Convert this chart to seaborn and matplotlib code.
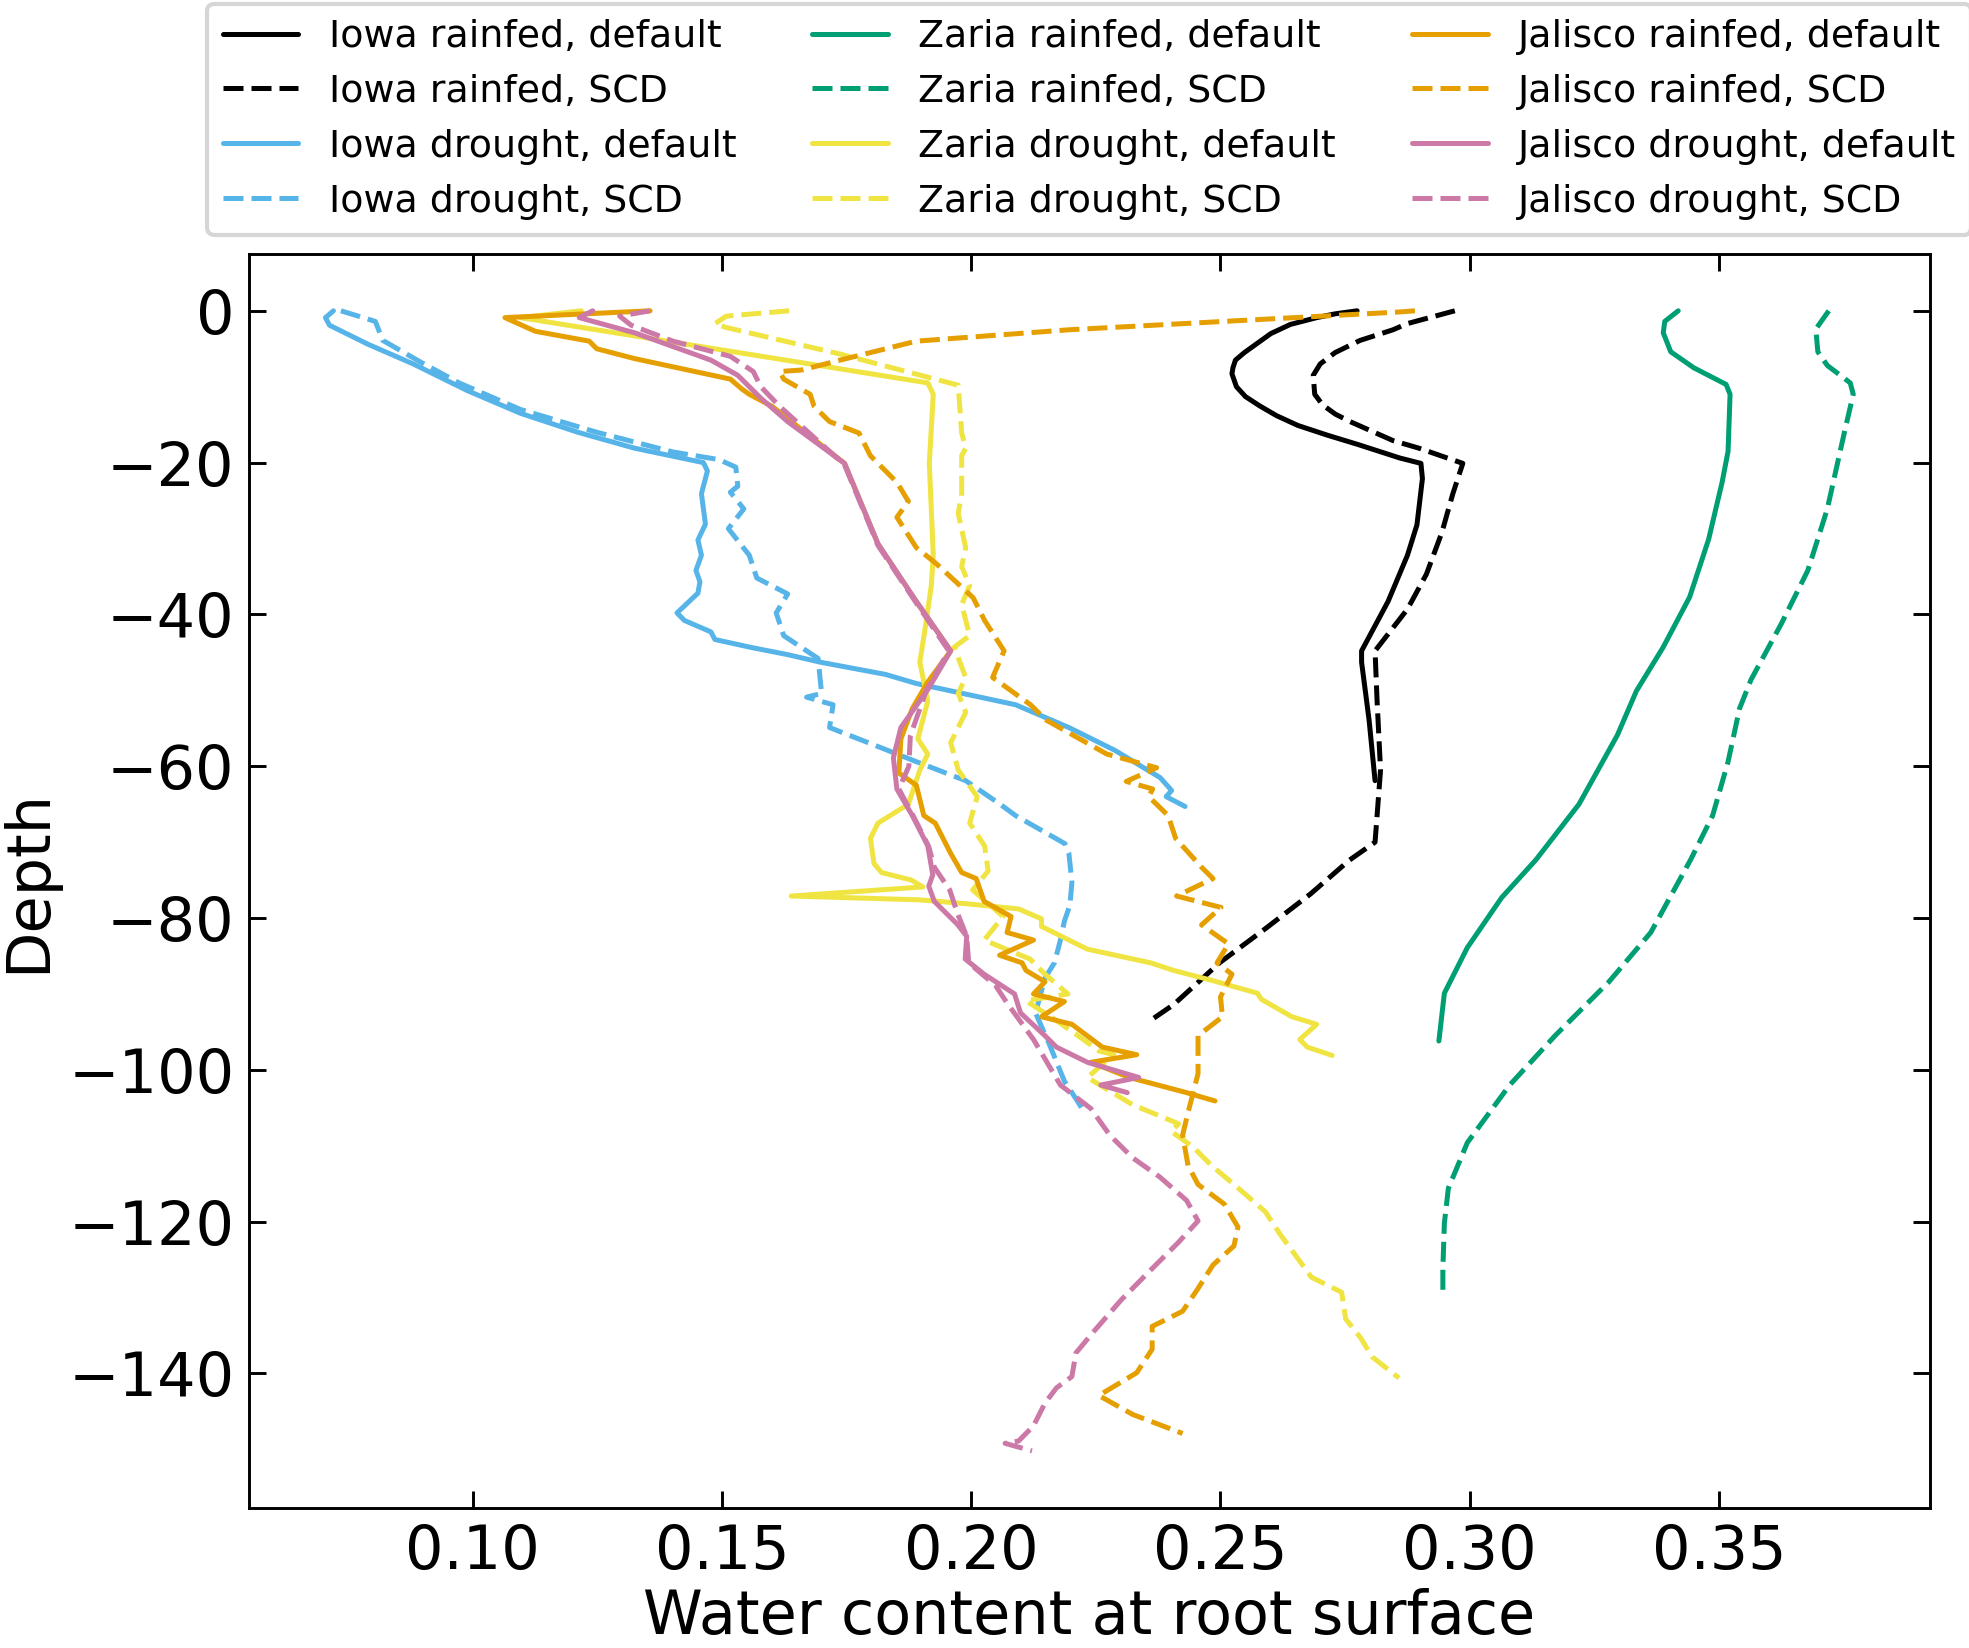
import pandas as pd
import seaborn as sns
import matplotlib.pyplot as plt

# Iowa rainfed, default
iowa_rain_def_wc = [0.2774, 0.2730, 0.2693, 0.2640, 0.2601, 0.2548, 0.2530, 0.2525, 0.2523, 0.2532,
                    0.2550, 0.2578, 0.2612, 0.2655, 0.2715, 0.2775, 0.2860, 0.2902, 0.2905, 0.2894,
                    0.2875, 0.2836, 0.2783, 0.2783, 0.2798, 0.2810]
iowa_rain_def_z = [0, -0.4, -0.9, -1.8, -3, -5.5, -6.5, -7.5, -8.3, -10,
                   -11.3, -12.5, -13.8, -15.1, -16.4, -17.6, -19.4, -20.1, -22.1, -28.2,
                   -32.2, -38.3, -44.8, -46.3, -53.9, -61.9]

# Iowa rainfed, SCD
iowa_rain_scd_wc = [0.2970, 0.2874, 0.2846, 0.2780, 0.2730, 0.2700, 0.2686, 0.2689, 0.2705, 0.2730,
                    0.2760, 0.2846, 0.2898, 0.2986, 0.2966, 0.2944, 0.2913, 0.2875, 0.2810, 0.2814,
                    0.2821, 0.2810, 0.2758, 0.2681, 0.2590, 0.2498, 0.2406, 0.2355]
iowa_rain_scd_z = [0, -1.7, -2.5, -3.9, -5.5, -7, -8.5, -11, -12.4, -13.6,
                   -14.6, -17.1, -18.1, -20.1, -24.1, -29.2, -34.7, -39.3, -44.8, -51.3,
                   -60.5, -70, -72.4, -76.8, -81.4, -85.9, -91.4, -93.7]

# Iowa drought, default
iowa_dry_def_wc = [0.0721, 0.0705, 0.0713, 0.0790, 0.0881, 0.0989, 0.1096, 0.1211, 0.1325, 0.1463,
                   0.1471, 0.1459, 0.1467, 0.1452, 0.1459, 0.1448, 0.1456, 0.1452, 0.1410, 0.1425,
                   0.1478, 0.1486, 0.1555, 0.1632, 0.1698, 0.1828, 0.1890, 0.2089, 0.2196, 0.2288,
                   0.2379, 0.2402, 0.2391, 0.2429]
iowa_dry_def_z = [0, -0.9, -1.9, -4.4, -7, -10.5, -13.5, -16, -18.1, -20,
                  -21.1, -24.1, -28.1, -30.2, -32.2, -34.2, -35.7, -37.2, -39.8, -40.8,
                  -42.3, -43.3, -44.3, -45.3, -46.3, -47.9, -49.1, -51.9, -54.9, -57.9,
                  -61.5, -63.2, -64, -65.3]

# Iowa drought, SCD
iowa_dry_scd_wc = [0.0736, 0.0805, 0.0820, 0.0897, 0.0973, 0.1096, 0.1249, 0.1402, 0.1494, 0.1528,
                   0.1532, 0.1517, 0.1544, 0.1513, 0.1555, 0.1570, 0.1632, 0.1609, 0.1624, 0.1693,
                   0.1700, 0.1670, 0.1723, 0.1716, 0.1813, 0.1890, 0.1989, 0.2058, 0.2089, 0.2188,
                   0.2196, 0.2202, 0.2198, 0.2187, 0.2179, 0.2167, 0.2148, 0.2129, 0.2156, 0.2187,
                   0.2213, 0.2229]
iowa_dry_scd_z = [0, -1.4, -3.9, -6.8, -9.5, -13, -16, -18.6, -19.6, -20.6,
                  -23.1, -23.9, -26.1, -28.7, -32.2, -35.2, -37.3, -39.8, -42.8, -45.8,
                  -50.4, -50.9, -51.9, -54.9, -57.4, -59.4, -61.9, -65, -66.5, -70.2,
                  -71.5, -75.3, -78.3, -80.4, -82.9, -85.9, -87.9, -92.5, -96.5, -101.5,
                  -104.1, -105.8]

# Zaria rainfed, default
zaria_rain_def_wc = [0.3418, 0.3391, 0.3388, 0.3403, 0.3449, 0.3514, 0.3522, 0.3518, 0.3506, 0.3479,
                     0.3441, 0.3388, 0.3334, 0.3296, 0.3219, 0.3133, 0.3064, 0.2995, 0.2949, 0.2938]
zaria_rain_def_z = [0, -1.4, -2.9, -5.4, -7.5, -9.7, -11, -18.5, -22.6, -30.1,
                    -37.7, -44.3, -50.1, -55.9, -65, -72.3, -77.3, -83.9, -89.9, -96.2]

# Zaria rainfed, SCD
zaria_rain_scd_wc = [0.3720, 0.3694, 0.3698, 0.3717, 0.3763, 0.3769, 0.3751, 0.3717, 0.3678, 0.3625,
                     0.3564, 0.3541, 0.3518, 0.3487, 0.3443, 0.3363, 0.3279, 0.3171, 0.3080, 0.2995,
                     0.2957, 0.2949, 0.2946, 0.2946]
zaria_rain_scd_z = [0, -2.4, -5.4, -7.2, -9.5, -11, -16.1, -26.1, -34.2, -41.2,
                    -48.6, -52.4, -59.4, -66.5, -72.3, -81.9, -88.4, -95.5, -102, -109.6,
                    -115.6, -120.2, -126.2, -129.8]

# Zaria drought, default
zaria_dry_def_wc = [0.1218, 0.1096, 0.1913, 0.1924, 0.1916, 0.1924, 0.1920, 0.1909, 0.1897, 0.1913,
                    0.1893, 0.1913, 0.1897, 0.1874, 0.1813, 0.1798, 0.1805, 0.1820, 0.1880, 0.1903,
                    0.1639, 0.1896, 0.1988, 0.2095, 0.2141, 0.2141, 0.2233, 0.2360, 0.2406, 0.2482,
                    0.2574, 0.2582, 0.2643, 0.2693, 0.2659, 0.2674, 0.2724]
zaria_dry_def_z = [0, -0.9, -9.5, -11, -20.1, -32.2, -36.2, -41.3, -46.3, -51.4,
                   -56.4, -58.4, -60.5, -65, -67.5, -69.5, -72.8, -74.0, -75.0, -75.9,
                   -77.1, -77.6, -78.1, -78.8, -80.1, -81.1, -84.1, -85.9, -86.9, -88.2,
                   -89.9, -90.7, -93, -94, -96, -97, -98.1]

# Zaria drought, SCD
zaria_dry_scd_wc = [0.1635, 0.1509, 0.1486, 0.1509, 0.1737, 0.1974, 0.1981, 0.1989, 0.1981, 0.1981,
                    0.1974, 0.1989, 0.1981, 0.1997, 0.1981, 0.1997, 0.1966, 0.1989, 0.1974, 0.1989,
                    0.1959, 0.1974, 0.2012, 0.1997, 0.2027, 0.2034, 0.2003, 0.2064, 0.2026, 0.2118,
                    0.2148, 0.2194, 0.2110, 0.2171, 0.2225, 0.2256, 0.2286, 0.2233, 0.2324, 0.2416,
                    0.2401, 0.2444, 0.2482, 0.2536, 0.2590, 0.2620, 0.2659, 0.2682, 0.2743, 0.2751,
                    0.2781, 0.2804, 0.2858]
zaria_dry_scd_z = [0, -0.7, -1.7, -2.2, -5.7, -9.8, -16.1, -18.1, -19.1, -24.1,
                   -26.7, -31.2, -33.7, -36.2, -38.7, -42.8, -44.3, -48.3, -50.4, -52.9,
                   -56.9, -60.5, -64, -67.5, -70.5, -73.8, -76.3, -79.8, -82.9, -85.4,
                   -87.4, -90, -90.9, -93.5, -96, -97.5, -98, -101, -104.6, -107.1,
                   -108.1, -110.1, -112.6, -115.6, -118.7, -121.7, -125.2, -127.3, -129.3, -132.8,
                   -135.3, -137.8, -140.6]

# Jalisco rainfed, default
jal_rain_def_wc = [0.1356, 0.1065, 0.1126, 0.1234, 0.1249, 0.1325, 0.1517, 0.1540, 0.1555, 0.1601,
                   0.1746, 0.1813, 0.1890, 0.1959, 0.1913, 0.1882, 0.1859, 0.1855, 0.1890, 0.1905,
                   0.1928, 0.1959, 0.1981, 0.2010, 0.2018, 0.2026, 0.2080, 0.2072, 0.2125, 0.2057,
                   0.2102, 0.2110, 0.2148, 0.2125, 0.2187, 0.2141, 0.2202, 0.2263, 0.2332, 0.2240,
                   0.2317, 0.2432, 0.2489]
jal_rain_def_z = [0, -0.9, -2.7, -4, -5, -6.3, -9, -10.3, -11, -12.6,
                  -20.1, -30.7, -38.3, -44.8, -48.9, -52.4, -56.4, -60.9, -62.5, -66.5,
                  -67.5, -71.5, -74, -74.8, -76.3, -77.8, -79.8, -81.9, -82.9, -84.9,
                  -85.9, -86.9, -88.4, -90, -91, -93, -94, -97, -98, -99,
                  -101, -103, -104.1]

# Jalisco rainfed, SCD
jal_rain_scd_wc = [0.2890, 0.2860, 0.2196, 0.1890, 0.1737, 0.1660, 0.1616, 0.1624, 0.1677, 0.1685,
                   0.1716, 0.1775, 0.1798, 0.1851, 0.1874, 0.1851, 0.1890, 0.1928, 0.2004, 0.2027,
                   0.2066, 0.2043, 0.2119, 0.2150, 0.2272, 0.2372, 0.2311, 0.2364, 0.2356, 0.2395,
                   0.2410, 0.2462, 0.2485, 0.2412, 0.2501, 0.2462, 0.2516, 0.2493, 0.2523, 0.2500,
                   0.2504, 0.2455, 0.2455, 0.2435, 0.2424, 0.2435, 0.2455, 0.2508, 0.2535, 0.2527,
                   0.2485, 0.2455, 0.2424, 0.2363, 0.2363, 0.2332, 0.2256, 0.2324, 0.2424]
jal_rain_scd_z = [0, -0.15, -2.5, -4, -6.5, -7.8, -8, -9, -11, -12.6,
                  -14.6, -16.1, -19.1, -22.6, -25.1, -27.2, -31.2, -33.2, -37.8, -40.8,
                  -44.8, -48.3, -51.9, -53.9, -58.4, -60.2, -62, -63, -64, -66.5,
                  -69.5, -73.3, -74.8, -77.1, -78.6, -80.9, -83.4, -85.9, -87.4, -90.4,
                  -93, -95.5, -100.5, -105.6, -108.6, -112.6, -115.1, -117.7, -120.7, -123.2,
                  -125.7, -128.8, -131.8, -133.8, -136.8, -139.9, -142.9, -145.4, -147.9]

# Jalisco drought, default
jal_dry_def_wc = [0.1241, 0.1214, 0.1325, 0.1478, 0.1532, 0.1578, 0.1632, 0.1746, 0.1813, 0.1890,
                  0.1959, 0.1913, 0.1859, 0.1844, 0.1851, 0.1882, 0.1913, 0.1923, 0.1915, 0.1926,
                  0.1972, 0.1991, 0.1988, 0.2026, 0.2087, 0.2099, 0.2148, 0.2171, 0.2233, 0.2336,
                  0.2260, 0.2313]
jal_dry_def_z = [0, -0.9, -2.9, -6.5, -8.5, -11.5, -14.6, -20.1, -30.7, -38.3,
                 -44.8, -49.9, -54.9, -58.9, -63, -66.5, -70.5, -74.3, -75.8, -77.8,
                 -80.8, -82.4, -85.4, -87.4, -90, -92.5, -95.5, -97, -99, -101,
                 -102, -103]

# Jalisco drought, SCD
jal_dry_scd_wc = [0.1356, 0.1295, 0.1318, 0.1402, 0.1517, 0.1563, 0.1578, 0.1616, 0.1746, 0.1813,
                  0.1890, 0.1955, 0.1910, 0.1878, 0.1875, 0.1855, 0.1885, 0.1915, 0.1926, 0.1957,
                  0.1972, 0.1991, 0.1995, 0.2049, 0.2072, 0.2125, 0.2179, 0.2240, 0.2278, 0.2324,
                  0.2378, 0.2432, 0.2455, 0.2416, 0.2355, 0.2301, 0.2248, 0.2210, 0.2202, 0.2171,
                  0.2148, 0.2125, 0.2095, 0.2068, 0.2122]
jal_dry_scd_z = [0, -0.7, -1.9, -4, -6, -8, -10, -12.6, -20.3, -30.9,
                 -38.5, -44.8, -50, -56, -60, -63, -66.7, -70.6, -73.3, -76.3,
                 -79.3, -82.4, -85.9, -88.9, -91.2, -96, -102, -105.1, -108.6, -111.6,
                 -114.1, -117.2, -119.9, -122.7, -126.7, -130.3, -134.3, -137.3, -140.4, -141.9,
                 -143.9, -146.9, -148.9, -149.2, -150.2]

DASH = (0, (4.0, 1.6))

series = [
    ("Iowa rainfed, default", iowa_rain_def_wc, iowa_rain_def_z, "#000000", "-"),
    ("Iowa rainfed, SCD", iowa_rain_scd_wc, iowa_rain_scd_z, "#000000", DASH),
    ("Iowa drought, default", iowa_dry_def_wc, iowa_dry_def_z, "#56B4E9", "-"),
    ("Iowa drought, SCD", iowa_dry_scd_wc, iowa_dry_scd_z, "#56B4E9", DASH),
    ("Zaria rainfed, default", zaria_rain_def_wc, zaria_rain_def_z, "#009E73", "-"),
    ("Zaria rainfed, SCD", zaria_rain_scd_wc, zaria_rain_scd_z, "#009E73", DASH),
    ("Zaria drought, default", zaria_dry_def_wc, zaria_dry_def_z, "#F0E442", "-"),
    ("Zaria drought, SCD", zaria_dry_scd_wc, zaria_dry_scd_z, "#F0E442", DASH),
    ("Jalisco rainfed, default", jal_rain_def_wc, jal_rain_def_z, "#E69F00", "-"),
    ("Jalisco rainfed, SCD", jal_rain_scd_wc, jal_rain_scd_z, "#E69F00", DASH),
    ("Jalisco drought, default", jal_dry_def_wc, jal_dry_def_z, "#CC79A7", "-"),
    ("Jalisco drought, SCD", jal_dry_scd_wc, jal_dry_scd_z, "#CC79A7", DASH),
]

sns.set_style("ticks", {
    "axes.edgecolor": "black", "text.color": "black", "axes.labelcolor": "black",
    "xtick.color": "black", "ytick.color": "black",
    "xtick.direction": "in", "ytick.direction": "in",
    "xtick.top": True, "ytick.right": True,
})
plt.rcParams["font.family"] = ["DejaVu Sans"]

fig, ax = plt.subplots(figsize=(1969 / 300, 1648 / 300), dpi=300)
fig.subplots_adjust(left=0.1265, right=0.980, bottom=0.085, top=0.846)

for label, wc, z, color, ls in series:
    df = pd.DataFrame({"wc": wc, "depth": z})
    sns.lineplot(data=df, x="wc", y="depth", sort=False, estimator=None,
                 color=color, linestyle=ls, linewidth=1.2, label=label, ax=ax)

ax.set_xlabel("Water content at root surface", fontsize=14.5, labelpad=1.5)
ax.set_ylabel("Depth", fontsize=14.5, labelpad=2.5)
ax.tick_params(axis="both", which="major", labelsize=14.5, length=4, width=0.7,
               direction="in", top=True, right=True)
for sp in ax.spines.values():
    sp.set_linewidth(0.7)

ax.legend(ncol=3, loc="lower center", bbox_to_anchor=(0.5, 1.0), fontsize=9.1,
          labelspacing=0.5)

fig.savefig("out.png", dpi=300)
